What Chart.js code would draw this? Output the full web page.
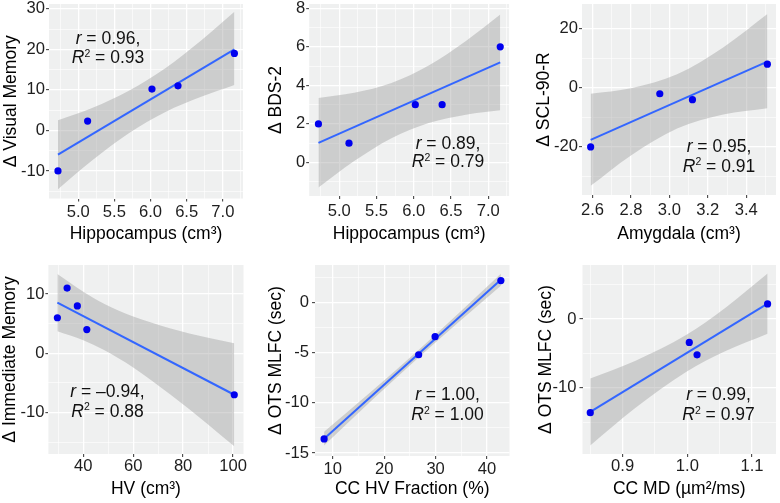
<!DOCTYPE html>
<html>
<head>
<meta charset="utf-8">
<script src="https://cdn.jsdelivr.net/npm/chart.js@4.4.1/dist/chart.umd.min.js"></script>
<style>
html, body { margin: 0; padding: 0; background: #fff; }
#fig { position: relative; width: 780px; height: 503px; overflow: hidden; font-family: "Liberation Sans", Arial, sans-serif; }
#fig canvas { position: absolute; }
.note { position: absolute; transform: translate(-50%, -50%); font-size: 17.5px; color: #111; white-space: nowrap; line-height: 1; }
.note sup { font-size: 60%; vertical-align: 0; position: relative; top: -0.6em; }
</style>
</head>
<body>
<div id="fig"></div>
<script>
/* ==============================
   DATA
 ============================== */
// panel 1 - hippocampus vs visual memory
const p1X = [4.72, 5.13, 6.02, 6.38, 7.16];
const p1Y = [-10, 2.3, 10.2, 11.0, 19.0];
const p1FitX = [4.72, 7.16];
const p1FitY = [-5.95, 20.0];
const p1BandX = [4.72, 5.2, 5.7, 6.2, 6.7, 7.16];
const p1BandLo = [-14.5, -7.3, -0.7, 4.5, 8.3, 11.2];
const p1BandHi = [2.5, 5.6, 9.8, 15.3, 22.2, 29.3];
const p1XTicks = [5, 5.5, 6, 6.5, 7];
const p1XTickLabels = ['5.0', '5.5', '6.0', '6.5', '7.0'];
const p1YTicks = [-10, 0, 10, 20, 30];
const p1XRange = [4.596, 7.279];
const p1YRange = [-16.8, 31.2];
const p1Stats = ['0.96', '0.93'];

// panel 2 - hippocampus vs BDS-2
const p2X = [4.72, 5.13, 6.02, 6.38, 7.16];
const p2Y = [2, 1, 3, 3, 6];
const p2FitX = [4.72, 7.16];
const p2FitY = [1.02, 5.19];
const p2BandX = [4.72, 5.2, 5.7, 6.2, 6.7, 7.16];
const p2BandLo = [-1.30, 0.07, 1.26, 2.05, 2.48, 2.71];
const p2BandHi = [3.34, 3.61, 4.12, 5.03, 6.30, 7.67];
const p2XTicks = [5, 5.5, 6, 6.5, 7];
const p2XTickLabels = ['5.0', '5.5', '6.0', '6.5', '7.0'];
const p2YTicks = [0, 2, 4, 6, 8];
const p2XRange = [4.596, 7.279];
const p2YRange = [-1.74, 8.22];
const p2Stats = ['0.89', '0.79'];

// panel 3 - amygdala vs SCL-90-R
const p3X = [2.59, 2.95, 3.12, 3.51];
const p3Y = [-20, -2, -4, 8];
const p3FitX = [2.59, 3.51];
const p3FitY = [-17.6, 8.9];
const p3BandX = [2.59, 2.8, 3.04, 3.28, 3.51];
const p3BandLo = [-33.2, -22.9, -13.8, -9.0, -6.9];
const p3BandHi = [-2.0, -0.1, 4.6, 13.7, 25.0];
const p3XTicks = [2.6, 2.8, 3.0, 3.2, 3.4];
const p3XTickLabels = ['2.6', '2.8', '3.0', '3.2', '3.4'];
const p3YTicks = [-20, 0, 20];
const p3XRange = [2.545, 3.555];
const p3YRange = [-36.3, 28.4];
const p3Stats = ['0.95', '0.91'];

// panel 4 - HV vs immediate memory
const p4X = [29.6, 33.5, 37.6, 41.4, 100.5];
const p4Y = [6, 11, 8, 4, -7];
const p4FitX = [29.6, 100.5];
const p4FitY = [8.55, -7.0];
const p4BandX = [29.6, 40, 48.5, 60, 75, 90, 100.5];
const p4BandLo = [3.7, 2.2, 0.5, -2.4, -7.0, -12.0, -15.7];
const p4BandHi = [13.4, 10.4, 8.3, 6.2, 4.2, 2.6, 1.7];
const p4XTicks = [40, 60, 80, 100];
const p4XTickLabels = ['40', '60', '80', '100'];
const p4YTicks = [-10, 0, 10];
const p4XRange = [26.0, 104.2];
const p4YRange = [-17.0, 14.9];
const p4Stats = ['\u20130.94', '0.88'];

// panel 5 - CC HV fraction vs OTS MLFC
const p5X = [8.3, 26.7, 29.9, 42.7];
const p5Y = [-13.6, -5.2, -3.4, 2.2];
const p5FitX = [8.3, 42.7];
const p5FitY = [-13.57, 2.28];
const p5BandX = [8.3, 17.6, 26.9, 34.8, 42.7];
const p5BandLo = [-14.25, -9.75, -5.38, -1.8, 1.68];
const p5BandHi = [-12.89, -8.81, -4.62, -0.92, 2.88];
const p5XTicks = [10, 20, 30, 40];
const p5XTickLabels = ['10', '20', '30', '40'];
const p5YTicks = [-15, -10, -5, 0];
const p5XRange = [6.53, 44.38];
const p5YRange = [-15.3, 3.75];
const p5Stats = ['1.00', '1.00'];

// panel 6 - CC MD vs OTS MLFC
const p6X = [0.85, 1.003, 1.015, 1.124];
const p6Y = [-13.6, -3.4, -5.2, 2.2];
const p6FitX = [0.85, 1.124];
const p6FitY = [-13.49, 2.23];
const p6BandX = [0.85, 0.92, 0.998, 1.06, 1.124];
const p6BandLo = [-18.35, -12.9, -7.68, -4.61, -2.14];
const p6BandHi = [-8.63, -6.04, -2.32, 1.73, 6.6];
const p6XTicks = [0.9, 1.0, 1.1];
const p6XTickLabels = ['0.9', '1.0', '1.1'];
const p6YTicks = [-10, 0];
const p6XRange = [0.838, 1.137];
const p6YRange = [-19.6, 7.85];
const p6Stats = ['0.99', '0.97'];

/* ==============================
   PANEL LAYOUT
 ============================== */
const panels = [
  { box: [0, 0, 260, 250], plot: [49, 2, 243, 198.5], yTitle: '\u0394 Visual Memory', xTitle: 'Hippocampus (cm\u00b3)',
    x: p1X, y: p1Y, fitX: p1FitX, fitY: p1FitY, bandX: p1BandX, bandLo: p1BandLo, bandHi: p1BandHi,
    xTicks: p1XTicks, xLabels: p1XTickLabels, yTicks: p1YTicks, xRange: p1XRange, yRange: p1YRange,
    stats: p1Stats, note: [108, 39, 58], yTitlePad: 2.25, xTitlePad: 7.25, xTickPad: 2.2, yTickPad: 1 },
  { box: [260, 0, 260, 250], plot: [309.2, 3, 509.1, 196], yTitle: '\u0394 BDS-2', xTitle: 'Hippocampus (cm\u00b3)',
    x: p2X, y: p2Y, fitX: p2FitX, fitY: p2FitY, bandX: p2BandX, bandLo: p2BandLo, bandHi: p2BandHi,
    xTicks: p2XTicks, xLabels: p2XTickLabels, yTicks: p2YTicks, xRange: p2XRange, yRange: p2YRange,
    stats: p2Stats, note: [448, 143.5, 162], yTitlePad: 7.75, xTitlePad: 7.25, xTickPad: 4.2, yTickPad: 1 },
  { box: [520, 0, 260, 250], plot: [582, 2, 778, 195], yTitle: '\u0394 SCL-90-R', xTitle: 'Amygdala (cm\u00b3)',
    x: p3X, y: p3Y, fitX: p3FitX, fitY: p3FitY, bandX: p3BandX, bandLo: p3BandLo, bandHi: p3BandHi,
    xTicks: p3XTicks, xLabels: p3XTickLabels, yTicks: p3YTicks, xRange: p3XRange, yRange: p3YRange,
    stats: p3Stats, note: [719, 146.5, 166.5], yTitlePad: 15.25, xTitlePad: 7.25, xTickPad: 3.7, yTickPad: 1 },
  { box: [0, 250, 260, 253], plot: [48.4, 265, 243.5, 454], yTitle: '\u0394 Immediate Memory', xTitle: 'HV (cm\u00b3)',
    x: p4X, y: p4Y, fitX: p4FitX, fitY: p4FitY, bandX: p4BandX, bandLo: p4BandLo, bandHi: p4BandHi,
    xTicks: p4XTicks, xLabels: p4XTickLabels, yTicks: p4YTicks, xRange: p4XRange, yRange: p4YRange,
    stats: p4Stats, note: [107.5, 391.5, 411.5], yTitlePad: 1.75, xTitlePad: 5.25, xTickPad: 1.2, yTickPad: 1 },
  { box: [260, 250, 260, 253], plot: [315, 265, 509.5, 456], yTitle: '\u0394 OTS MLFC (sec)', xTitle: 'CC HV Fraction (%)',
    x: p5X, y: p5Y, fitX: p5FitX, fitY: p5FitY, bandX: p5BandX, bandLo: p5BandLo, bandHi: p5BandHi,
    xTicks: p5XTicks, xLabels: p5XTickLabels, yTicks: p5YTicks, xRange: p5XRange, yRange: p5YRange,
    stats: p5Stats, note: [447.5, 395, 415], yTitlePad: 7.75, xTitlePad: 5.25, xTickPad: 2.2, yTickPad: 3 },
  { box: [520, 250, 260, 253], plot: [582.5, 265, 776.5, 454], yTitle: '\u0394 OTS MLFC (sec)', xTitle: 'CC MD (\u00b5m\u00b2/ms)',
    x: p6X, y: p6Y, fitX: p6FitX, fitY: p6FitY, bandX: p6BandX, bandLo: p6BandLo, bandHi: p6BandHi,
    xTicks: p6XTicks, xLabels: p6XTickLabels, yTicks: p6YTicks, xRange: p6XRange, yRange: p6YRange,
    stats: p6Stats, note: [718.5, 395, 415], yTitlePad: 17, xTitlePad: 5.25, xTickPad: 1.2, yTickPad: 3 }
];

const FONT = '"Liberation Sans", Arial, sans-serif';
const PANEL_BG = '#EFF0F0';

// --- UTILITIES ---
const pairs = (xs, ys) => xs.map((x, i) => ({ x: x, y: ys[i] }));

// ggplot-style minor breaks: halfway between majors, kept inside the limits
const minorTicks = (major, range) => {
  const step = major.length > 1 ? major[1] - major[0] : 1;
  const out = [major[0] - step / 2];
  major.forEach(v => out.push(v + step / 2));
  return out.filter(v => v > range[0] && v < range[1]);
};

const setTicks = (major, range) => scale => {
  const all = major.map(v => ({ value: v }))
    .concat(minorTicks(major, range).map(v => ({ value: v, minor: true })));
  scale.ticks = all.sort((a, b) => a.value - b.value);
};

const isMinor = c => !!(c.tick && c.tick.minor);

const panelBg = {
  id: 'panelBg',
  beforeDraw(chart) {
    const { ctx, chartArea: a } = chart;
    ctx.save();
    ctx.fillStyle = PANEL_BG;
    ctx.fillRect(a.left, a.top, a.right - a.left, a.bottom - a.top);
    ctx.restore();
  }
};

function axisOptions(p, horizontal) {
  const major = horizontal ? p.xTicks : p.yTicks;
  const range = horizontal ? p.xRange : p.yRange;
  const labels = horizontal ? p.xLabels : null;
  return {
    type: 'linear',
    position: horizontal ? 'bottom' : 'left',
    min: range[0],
    max: range[1],
    bounds: 'data',
    afterBuildTicks: setTicks(major, range),
    afterFit: s => {
      if (horizontal) s.height = p.box[1] + p.box[3] - p.plot[3];
      else s.width = p.plot[0] - p.box[0];
      s.paddingTop = 0; s.paddingBottom = 0; s.paddingLeft = 0; s.paddingRight = 0;
    },
    border: { display: false },
    grid: {
      color: '#ffffff',
      lineWidth: c => isMinor(c) ? 0.6 : 1.3,
      tickColor: c => isMinor(c) ? 'rgba(0,0,0,0)' : '#333333',
      tickLength: 3,
      tickWidth: 1
    },
    ticks: {
      autoSkip: false,
      maxRotation: 0,
      padding: horizontal ? p.xTickPad : p.yTickPad,
      color: '#1e1e1e',
      font: { family: FONT, size: 16.6, lineHeight: 1 },
      callback: (v, i, ticks) => {
        if (ticks[i] && ticks[i].minor) return '';
        const k = major.indexOf(v);
        return labels ? labels[k] : String(v);
      }
    },
    title: {
      display: true,
      text: horizontal ? p.xTitle : p.yTitle,
      color: '#000000',
      font: { family: FONT, size: 17.5, lineHeight: 1 },
      padding: horizontal ? { top: 0, bottom: p.xTitlePad } : { top: p.yTitlePad, bottom: 0 }
    }
  };
}

/* ==============================
   BUILD PANELS
 ============================== */
const fig = document.getElementById('fig');

panels.forEach(p => {
  const cv = document.createElement('canvas');
  cv.width = p.box[2];
  cv.height = p.box[3];
  cv.style.left = p.box[0] + 'px';
  cv.style.top = p.box[1] + 'px';
  cv.style.width = p.box[2] + 'px';
  cv.style.height = p.box[3] + 'px';
  fig.appendChild(cv);

  new Chart(cv.getContext('2d'), {
    type: 'line',
    data: {
      datasets: [
        { data: pairs(p.bandX, p.bandLo), showLine: true, borderWidth: 0, borderColor: 'rgba(0,0,0,0)',
          pointRadius: 0, fill: false, cubicInterpolationMode: 'monotone', order: 3 },
        { data: pairs(p.bandX, p.bandHi), showLine: true, borderWidth: 0, borderColor: 'rgba(0,0,0,0)',
          pointRadius: 0, fill: '-1', backgroundColor: 'rgba(153,153,153,0.4)', cubicInterpolationMode: 'monotone', order: 2 },
        { data: pairs(p.fitX, p.fitY), showLine: true, borderColor: '#3366FF', borderWidth: 2,
          pointRadius: 0, fill: false, order: 1 },
        { data: pairs(p.x, p.y), showLine: false, pointRadius: 3.6, pointBorderWidth: 0,
          pointBackgroundColor: '#0000EE', backgroundColor: '#0000EE', order: 0 }
      ]
    },
    options: {
      responsive: false,
      devicePixelRatio: 1,
      animation: false,
      events: [],
      layout: {
        padding: { left: 0, bottom: 0, top: p.plot[1] - p.box[1], right: p.box[0] + p.box[2] - p.plot[2] }
      },
      scales: { x: axisOptions(p, true), y: axisOptions(p, false) },
      plugins: { legend: { display: false }, tooltip: { enabled: false } }
    },
    plugins: [panelBg]
  });

  // r and R² labels, as text
  const l1 = document.createElement('div');
  l1.className = 'note';
  l1.style.left = p.note[0] + 'px';
  l1.style.top = p.note[1] + 'px';
  l1.innerHTML = `<i>r</i> = ${p.stats[0]},`;
  fig.appendChild(l1);

  const l2 = document.createElement('div');
  l2.className = 'note';
  l2.style.left = p.note[0] + 'px';
  l2.style.top = p.note[2] + 'px';
  l2.innerHTML = `<i>R</i><sup>2</sup> = ${p.stats[1]}`;
  fig.appendChild(l2);
});
</script>
</body>
</html>
